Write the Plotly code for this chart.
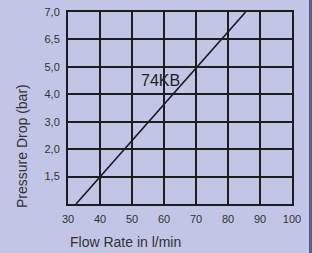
import plotly.graph_objects as go

# Data
flow_rate = [32.5, 85.5]            # l/min
line_grid_pos = [0, 7]              # position on the (non-linear) pressure grid
x_ticks = [30, 40, 50, 60, 70, 80, 90, 100]
y_tick_pos = [1, 2, 3, 4, 5, 6, 7]
y_tick_labels = ["1,5", "2,0", "3,0", "4,0", "5,0", "6,5", "7,0"]
series_label = "74KB"

W, H = 312, 253
L, R, T, B = 68, 20, 12, 49
pw, ph = W - L - R, H - T - B

def px_to_paper(px, py):
    return (px - L) / pw, (H - B - py) / ph

fig = go.Figure()
fig.add_trace(go.Scatter(x=flow_rate, y=line_grid_pos, mode="lines",
                         line=dict(color="#1a1a1a", width=1.6), showlegend=False,
                         hoverinfo="skip"))

font = "Liberation Sans, Arial, Helvetica, sans-serif"
fig.update_layout(
    width=W, height=H,
    margin=dict(l=L, r=R, t=T, b=B, autoexpand=False),
    paper_bgcolor="#c3c5e7",
    plot_bgcolor="#c3c5e7",
    font=dict(family=font, color="#333333"),
    xaxis=dict(range=[30, 100], tickvals=x_ticks, ticks="", showgrid=True, automargin=False,
               ticklabelstandoff=4,
               gridcolor="#1e1e1e", gridwidth=2, showline=True, linecolor="#1e1e1e",
               linewidth=2, mirror=True, zeroline=False, tickfont=dict(size=11, color="#333333")),
    yaxis=dict(range=[0, 7], tickvals=y_tick_pos, ticktext=y_tick_labels, ticks="", automargin=False,
               ticklabelstandoff=4,
               showgrid=True, gridcolor="#1e1e1e", gridwidth=2, showline=True,
               linecolor="#1e1e1e", linewidth=2, mirror=True, zeroline=False,
               tickfont=dict(size=11, color="#333333")),
)

xt = px_to_paper(125, 242)
yt = px_to_paper(22, 146)
fig.add_annotation(text="Flow Rate in l/min", xref="paper", yref="paper", x=xt[0], y=xt[1],
                   xanchor="center", yanchor="middle",
                   showarrow=False, font=dict(size=14, color="#333333"))
fig.add_annotation(text="Pressure Drop (bar)", xref="paper", yref="paper", x=yt[0], y=yt[1],
                   xanchor="center", yanchor="middle",
                   showarrow=False, textangle=-90, font=dict(size=14, color="#333333"))
fig.add_annotation(text=series_label, x=58.8, y=4.5, showarrow=False,
                   xanchor="center", yanchor="middle",
                   font=dict(size=16, color="#222222"))

# right dark strip
s0 = px_to_paper(309, 0)[0]
fig.add_shape(type="rect", xref="paper", yref="paper", x0=s0, x1=(W - L) / pw + 0.01,
              y0=-B / ph - 0.01, y1=1 + T / ph + 0.01, fillcolor="#5c5e8a", line_width=0,
              layer="above")

fig.write_html("out.html", config={"displayModeBar": False},
               post_script="document.body.style.margin='0';document.body.style.padding='0';")
